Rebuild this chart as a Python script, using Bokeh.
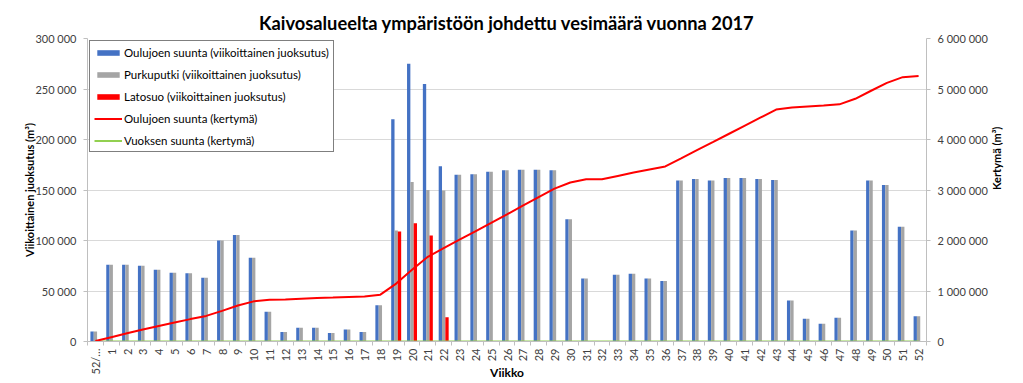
import math
from bokeh.plotting import figure
from bokeh.models import (Range1d, LinearAxis, FixedTicker, Legend, LegendItem,
                          ColumnDataSource)
from bokeh.transform import dodge
from bokeh.embed import file_html
from bokeh.resources import INLINE

# ---------------- data ----------------
weeks = ["52/…", "1", "2", "3", "4", "5", "6", "7", "8", "9", "10",
         "11", "12", "13", "14", "15", "16", "17", "18", "19", "20",
         "21", "22", "23", "24", "25", "26", "27", "28", "29", "30",
         "31", "32", "33", "34", "35", "36", "37", "38", "39", "40",
         "41", "42", "43", "44", "45", "46", "47", "48", "49", "50",
         "51", "52"]

oulujoki_viikko = [10000, 76000, 76000, 75000, 71000, 68000, 67500, 63000, 100000, 105500,
                   83000, 29500, 9500, 13500, 13500, 8500, 12000, 9500, 36000, 220000,
                   275000, 255000, 173500, 165000, 165500, 168000, 169500, 170000, 170000, 169500,
                   121000, 62500, 0, 66000, 67000, 62500, 60000, 159500, 161000, 159500,
                   162000, 162000, 161000, 160000, 40500, 22500, 17500, 23500, 110000, 159500,
                   155000, 113500, 25000]

purkuputki_viikko = [10000, 76000, 76000, 75000, 71000, 68000, 67500, 63000, 100000, 105500,
                     83000, 29500, 9500, 13500, 13500, 8500, 12000, 9500, 36000, 110000,
                     158000, 150000, 149500, 165000, 165500, 168000, 169500, 170000, 170000, 169500,
                     121000, 62500, 0, 66000, 67000, 62500, 60000, 159500, 161000, 159500,
                     162000, 162000, 161000, 160000, 40500, 22500, 17500, 23500, 110000, 159500,
                     155000, 113500, 25000]

latosuo_viikko = [0, 0, 0, 0, 0, 0, 0, 0, 0, 0,
                  0, 0, 0, 0, 0, 0, 0, 0, 0, 109000,
                  117000, 105000, 24000, 0, 0, 0, 0, 0, 0, 0,
                  0, 0, 0, 0, 0, 0, 0, 0, 0, 0,
                  0, 0, 0, 0, 0, 0, 0, 0, 0, 0,
                  0, 0, 0]

oulujoki_kertyma = [10000, 86000, 162000, 237000, 308000, 376000, 443500, 506500, 606500, 712000,
                    795000, 824500, 834000, 847500, 861000, 869500, 881500, 891000, 927000, 1147000,
                    1422000, 1677000, 1850500, 2015500, 2181000, 2349000, 2518500, 2688500, 2858500, 3028000,
                    3149000, 3211500, 3211500, 3277500, 3344500, 3407000, 3467000, 3626500, 3787500, 3947000,
                    4109000, 4271000, 4432000, 4592000, 4632500, 4655000, 4672500, 4696000, 4806000, 4965500,
                    5120500, 5234000, 5259000]

vuoksi_kertyma = [0] * 53

left_ticks = [0, 50000, 100000, 150000, 200000, 250000, 300000]
left_tick_labels = ["0", "50 000", "100 000", "150 000", "200 000", "250 000", "300 000"]
right_ticks = [0, 1000000, 2000000, 3000000, 4000000, 5000000, 6000000]
right_tick_labels = ["0", "1 000 000", "2 000 000", "3 000 000", "4 000 000", "5 000 000", "6 000 000"]

title_text = "Kaivosalueelta ympäristöön johdettu vesimäärä vuonna 2017"
left_title = "Viikoittainen juoksutus (m³)"
right_title = "Kertymä (m³)"
x_title = "Viikko"
legend_labels = ["Oulujoen suunta (viikoittainen juoksutus)",
                 "Purkuputki (viikoittainen juoksutus)",
                 "Latosuo (viikoittainen juoksutus)",
                 "Oulujoen suunta (kertymä)",
                 "Vuoksen suunta (kertymä)"]

# ---------------- figure ----------------
FONT = "Lato"
TICK_COLOR = "#404040"
AXIS_COLOR = "#BFBFBF"

idx = list(range(len(weeks)))
src = ColumnDataSource(dict(idx=idx, weeks=weeks,
                            oulujoki=oulujoki_viikko, purkuputki=purkuputki_viikko,
                            latosuo=latosuo_viikko, kertyma=oulujoki_kertyma,
                            vuoksi=vuoksi_kertyma))

p = figure(width=1023, height=383, output_backend="svg", toolbar_location=None,
           x_range=Range1d(-0.5, len(weeks) - 0.5), y_range=Range1d(0, 300000),
           min_border_left=87, min_border_right=97, min_border_top=38, min_border_bottom=41)
p.extra_y_ranges = {"cum": Range1d(0, 6000000)}
p.outline_line_color = None
p.background_fill_color = "white"
p.border_fill_color = "white"

bw = 0.21
r_blue = p.vbar(x=dodge("idx", -bw, range=p.x_range), top="oulujoki", width=bw, source=src,
                fill_color="#4472C4", line_color=None)
r_grey = p.vbar(x="idx", top="purkuputki", width=bw, source=src,
                fill_color="#A5A5A5", line_color=None)
r_red = p.vbar(x=dodge("idx", bw, range=p.x_range), top="latosuo", width=bw, source=src,
               fill_color="#FF0000", line_color=None)
r_green = p.line("idx", "vuoksi", source=src, y_range_name="cum",
                 line_color="#92D050", line_width=2)
r_redline = p.line("idx", "kertyma", source=src, y_range_name="cum",
                   line_color="#FF0000", line_width=2)

# title
p.title.text = title_text
p.title.align = "center"
p.title.text_font = FONT
p.title.text_font_size = "18.3px"
p.title.text_font_style = "bold"
p.title.text_color = "#000000"

# x axis
xa = p.xaxis[0]
xa.ticker = FixedTicker(ticks=idx, minor_ticks=[i - 0.5 for i in range(len(weeks) + 1)])
xa.major_label_overrides = {i: w for i, w in zip(idx, weeks)}
xa.major_label_orientation = math.pi / 2
xa.major_tick_out = 0
xa.major_tick_in = 0
xa.minor_tick_out = 4
xa.minor_tick_in = 0
xa.minor_tick_line_color = AXIS_COLOR
xa.axis_line_color = AXIS_COLOR
xa.major_label_text_font = FONT
xa.major_label_text_font_size = "11px"
xa.major_label_text_color = TICK_COLOR
xa.major_label_standoff = 3
xa.axis_label = x_title
xa.axis_label_text_font = FONT
xa.axis_label_text_font_size = "12px"
xa.axis_label_text_font_style = "bold"
xa.axis_label_text_color = "#000000"
xa.axis_label_standoff = -12
p.xgrid.visible = False

# left y axis
ya = p.yaxis[0]
ya.ticker = FixedTicker(ticks=left_ticks)
ya.major_label_overrides = dict(zip(left_ticks, left_tick_labels))
ya.major_tick_out = 4
ya.major_tick_in = 0
ya.minor_tick_out = 0
ya.minor_tick_in = 0
ya.major_tick_line_color = AXIS_COLOR
ya.axis_line_color = AXIS_COLOR
ya.major_label_text_font = FONT
ya.major_label_text_font_size = "11px"
ya.major_label_text_color = TICK_COLOR
ya.major_label_standoff = 7
ya.axis_label = left_title
ya.axis_label_text_font = FONT
ya.axis_label_text_font_size = "11px"
ya.axis_label_text_font_style = "bold"
ya.axis_label_text_color = "#000000"
ya.axis_label_standoff = -4
p.ygrid.grid_line_color = "#D9D9D9"
p.ygrid.grid_line_width = 1

# right y axis
ra = LinearAxis(y_range_name="cum", ticker=FixedTicker(ticks=right_ticks))
ra.major_label_overrides = dict(zip(right_ticks, right_tick_labels))
ra.major_tick_out = 4
ra.major_tick_in = 0
ra.minor_tick_out = 0
ra.minor_tick_in = 0
ra.major_tick_line_color = AXIS_COLOR
ra.axis_line_color = AXIS_COLOR
ra.major_label_text_font = FONT
ra.major_label_text_font_size = "11px"
ra.major_label_text_color = TICK_COLOR
ra.major_label_standoff = 7
ra.axis_label = right_title
ra.axis_label_text_font = FONT
ra.axis_label_text_font_size = "11px"
ra.axis_label_text_font_style = "bold"
ra.axis_label_text_color = "#000000"
ra.axis_label_standoff = 6
if "axis_label_orientation" in ra.properties():
    ra.axis_label_orientation = math.pi / 2
p.add_layout(ra, "right")

# legend
legend = Legend(items=[LegendItem(label=legend_labels[0], renderers=[r_blue]),
                       LegendItem(label=legend_labels[1], renderers=[r_grey]),
                       LegendItem(label=legend_labels[2], renderers=[r_red]),
                       LegendItem(label=legend_labels[3], renderers=[r_redline]),
                       LegendItem(label=legend_labels[4], renderers=[r_green])],
                location="top_left", margin=2, padding=4, spacing=8,
                glyph_width=28, glyph_height=7, label_height=14, label_standoff=2,
                border_line_color="black", border_line_width=1,
                background_fill_color="white", background_fill_alpha=1,
                label_text_font=FONT, label_text_font_size="11.5px", label_text_color="#000000")
p.add_layout(legend)

open("out.html", "w").write(file_html(p, INLINE))
